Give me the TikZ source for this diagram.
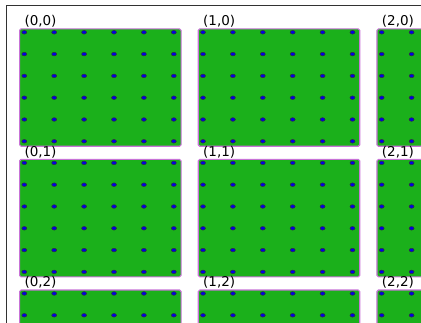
\documentclass[tikz,border=0pt]{standalone}
\usepackage{fontspec}
\setmainfont{DejaVu Sans}
\definecolor{panelgreen}{RGB}{27,176,27}
\definecolor{paneledge}{RGB}{200,115,215}
\definecolor{dotblue}{RGB}{0,0,230}
\definecolor{framegray}{RGB}{50,50,50}
\begin{document}
\begin{tikzpicture}[x=1pt,y=-1pt,
  panel/.style={draw=paneledge, fill=panelgreen, line width=1.1pt, rounded corners=1.5pt,
    minimum width=161.5pt, minimum height=117.4pt, inner sep=0pt, anchor=north west},
  lab/.style={anchor=base west, inner sep=0pt, font=\fontsize{13.5}{16}\selectfont},
  dotmark/.style={fill=dotblue, draw=black!80, line width=0.5pt},
  frameline/.style={draw=framegray, line width=1pt}]
\useasboundingbox (0,0) rectangle (421,323);
\clip (0,0) rectangle (421,323);
\coordinate (fa) at (6.7,340);
\coordinate (fb) at (6.7,5.7);
\coordinate (fc) at (440,5.7);
\draw[frameline] (fa) -- (fb) -- (fc);
\foreach \i in {0,1,2} {
  \foreach \j in {0,1,2} {
    \pgfmathsetmacro\xo{19+178.7*\i}
    \pgfmathsetmacro\yo{28.3+130.6*\j}
    \node[panel] (p\i\j) at (\xo,\yo) {};
    \node[lab] (l\i\j) at (\xo+5.3,\yo-2.8) {(\i,\j)};
    \foreach \k in {0,...,5} {
      \foreach \m in {0,...,5} {
        \path[dotmark] (\xo+5.3+29.9*\k, \yo+4+21.8*\m) ellipse [x radius=2.5pt, y radius=1.8pt];
      }
    }
  }
}
\end{tikzpicture}
\end{document}
